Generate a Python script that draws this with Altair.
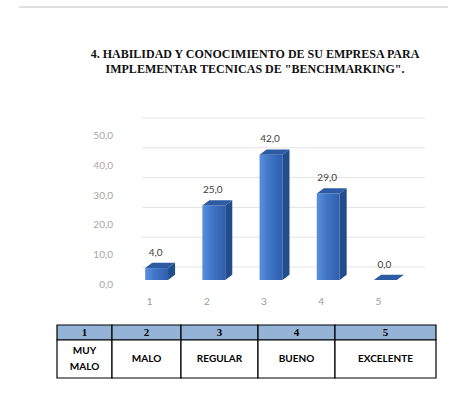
import altair as alt
import pandas as pd

TITLE_LINES = [
    "4. HABILIDAD Y CONOCIMIENTO DE SU EMPRESA PARA",
    'IMPLEMENTAR TECNICAS DE "BENCHMARKING".',
]
CATEGORIES = [1, 2, 3, 4, 5]
VALUES = [4.0, 25.0, 42.0, 29.0, 0.0]
RATINGS = ["MUY\nMALO", "MALO", "REGULAR", "BUENO", "EXCELENTE"]
Y_TICKS = [0, 10, 20, 30, 40, 50]

# pseudo-3D column geometry, in data units
HALF = 0.2       # half of the front face width
DEPTH_X = 0.123  # horizontal depth of side/top faces
DEPTH_Y = 1.8    # vertical depth of side/top faces

# legend table layout
COL_WIDTHS = [55, 69, 77, 77, 101]
HEADER_H = 15
BODY_H = 38

LABEL_FONT = "Lato"


def comma(v):
    return f"{v:.1f}".replace(".", ",")


xscale = alt.Scale(domain=[0.5, 5.5], nice=False, zero=False)
yscale = alt.Scale(domain=[0, 50], nice=False)

# front faces
front_df = pd.DataFrame({
    "cat": CATEGORIES,
    "value": VALUES,
    "xl": [c - HALF for c in CATEGORIES],
    "xr": [c + HALF for c in CATEGORIES],
    "base": [0.0] * len(VALUES),
})

# side faces (parallelograms drawn as two-point areas)
side_rows = []
for c, v in zip(CATEGORIES, VALUES):
    side_rows.append({"cat": c, "x": c + HALF, "lo": 0.0, "hi": v})
    side_rows.append({"cat": c, "x": c + HALF + DEPTH_X, "lo": DEPTH_Y, "hi": v + DEPTH_Y})
side_df = pd.DataFrame(side_rows)

# top faces
top_rows = []
for c, v in zip(CATEGORIES, VALUES):
    top_rows.append({"cat": c, "y": v, "l": c - HALF, "r": c + HALF})
    top_rows.append({"cat": c, "y": v + DEPTH_Y, "l": c - HALF + DEPTH_X, "r": c + HALF + DEPTH_X})
top_df = pd.DataFrame(top_rows)

label_df = pd.DataFrame({
    "cat": CATEGORIES,
    "ypos": [v + DEPTH_Y for v in VALUES],
    "text": [comma(v) for v in VALUES],
})

tick_df = pd.DataFrame({"v": Y_TICKS, "text": [comma(t) for t in Y_TICKS]})
cat_df = pd.DataFrame({"cat": CATEGORIES, "text": [str(c) for c in CATEGORIES]})
title_df = pd.DataFrame({"text": ["\n".join(TITLE_LINES)]})

front_gradient = alt.LinearGradient(
    gradient="linear", x1=0, x2=1, y1=0, y2=0,
    stops=[
        alt.GradientStop(color="#5a8fdc", offset=0),
        alt.GradientStop(color="#3f74c6", offset=0.45),
        alt.GradientStop(color="#2f5fae", offset=1),
    ],
)

# back-wall gridlines
grid = alt.Chart(tick_df).mark_rule(
    color="#e4e4e4", strokeWidth=1, yOffset=-13
).encode(
    y=alt.Y("v:Q", scale=yscale, axis=None),
    x=alt.value(14),
    x2=alt.value(297),
)

front = alt.Chart(front_df).mark_rect(color=front_gradient).encode(
    x=alt.X("xl:Q", scale=xscale, axis=None),
    x2="xr:Q",
    y=alt.Y("value:Q", scale=yscale, axis=None),
    y2="base:Q",
)

# value axis labels
ytick_labels = alt.Chart(tick_df).mark_text(
    font=LABEL_FONT, fontSize=10, color="#a6a6a6", align="right", baseline="middle", dy=5
).encode(
    y=alt.Y("v:Q", scale=yscale, axis=None),
    x=alt.value(-15),
    text="text:N",
)

# category axis labels
xcat_labels = alt.Chart(cat_df).mark_text(
    font=LABEL_FONT, fontSize=10, color="#9a9a9a", align="center", baseline="middle", dx=-7
).encode(
    x=alt.X("cat:Q", scale=xscale, axis=None),
    y=alt.value(171),
    text="text:N",
)

side = alt.Chart(side_df).mark_area(color="#214c8e", orient="vertical").encode(
    x=alt.X("x:Q", scale=xscale, axis=None),
    y=alt.Y("hi:Q", scale=yscale, axis=None),
    y2="lo:Q",
    detail="cat:N",
)

top = alt.Chart(top_df).mark_area(color="#2c5ba4", orient="horizontal").encode(
    y=alt.Y("y:Q", scale=yscale, axis=None),
    x=alt.X("l:Q", scale=xscale, axis=None),
    x2="r:Q",
    detail="cat:N",
)

labels = alt.Chart(label_df).mark_text(
    font=LABEL_FONT, fontSize=10, color="#404040", baseline="middle", dy=-10, dx=-1
).encode(
    x=alt.X("cat:Q", scale=xscale, axis=None),
    y=alt.Y("ypos:Q", scale=yscale, axis=None),
    text="text:N",
)

top_line = alt.Chart(title_df).mark_rule(color="#d4d4d4", strokeWidth=1.5).encode(
    x=alt.value(-109), x2=alt.value(320), y=alt.value(-124)
)

title = alt.Chart(title_df).mark_text(
    font="Liberation Serif", fontWeight="bold", fontSize=12, color="#111111",
    align="center", baseline="top", lineBreak="\n", lineHeight=15
).encode(
    x=alt.value(127),
    y=alt.value(-82),
    text="text:N",
)

plot = alt.layer(grid, front, ytick_labels, xcat_labels, side, top, labels, top_line, title)

# legend table below the columns
edges = [0]
for w in COL_WIDTHS:
    edges.append(edges[-1] + w)
cells = []
for i, c in enumerate(CATEGORIES):
    cells.append({"x0": edges[i], "x1": edges[i + 1], "y0": 0, "y1": HEADER_H,
                  "row": "header", "text": str(c)})
    cells.append({"x0": edges[i], "x1": edges[i + 1], "y0": HEADER_H, "y1": HEADER_H + BODY_H,
                  "row": "body", "text": RATINGS[i]})
cell_df = pd.DataFrame(cells)
cell_df["xc"] = (cell_df["x0"] + cell_df["x1"]) / 2
cell_df["yc"] = (cell_df["y0"] + cell_df["y1"]) / 2

tx = alt.Scale(domain=[0, edges[-1]], range=[-71, 308], nice=False, zero=False)
ty = alt.Scale(domain=[0, HEADER_H + BODY_H], range=[194, 247], nice=False, zero=False)

table_cells = alt.Chart(cell_df).mark_rect(stroke="#000000", strokeWidth=1.2).encode(
    x=alt.X("x0:Q", scale=tx, axis=None),
    x2="x1:Q",
    y=alt.Y("y0:Q", scale=ty, axis=None),
    y2="y1:Q",
    fill=alt.Fill("row:N", scale=alt.Scale(domain=["header", "body"],
                                            range=["#95b3d7", "#ffffff"]), legend=None),
)

header_text = alt.Chart(cell_df).transform_filter("datum.row == 'header'").mark_text(
    font="Liberation Serif", fontWeight="bold", fontSize=11, color="#000000", baseline="middle"
).encode(
    x=alt.X("xc:Q", scale=tx, axis=None),
    y=alt.Y("yc:Q", scale=ty, axis=None),
    text="text:N",
)

body_style = dict(font=LABEL_FONT, fontWeight="bold", fontSize=10, color="#000000",
                  baseline="middle", lineBreak="\n", lineHeight=16)

body_single = alt.Chart(cell_df).transform_filter(
    "datum.row == 'body' && indexof(datum.text, '\\n') < 0"
).mark_text(**body_style).encode(
    x=alt.X("xc:Q", scale=tx, axis=None),
    y=alt.Y("yc:Q", scale=ty, axis=None),
    text="text:N",
)

# two-line labels are lifted by half a line so the block stays centred
body_double = alt.Chart(cell_df).transform_filter(
    "datum.row == 'body' && indexof(datum.text, '\\n') >= 0"
).mark_text(dy=-8, **body_style).encode(
    x=alt.X("xc:Q", scale=tx, axis=None),
    y=alt.Y("yc:Q", scale=ty, axis=None),
    text="text:N",
)

table = alt.layer(table_cells, header_text, body_single, body_double)

chart = alt.layer(plot, table).resolve_scale(
    x="independent", y="independent"
).properties(
    width=286,
    height=149,
    padding={"left": 128, "top": 131, "right": 36, "bottom": 140},
    autosize=alt.AutoSizeParams(type="none"),
    background="#ffffff",
).configure_view(stroke=None)

chart.save("out.html", embed_options={"renderer": "svg", "actions": False})
